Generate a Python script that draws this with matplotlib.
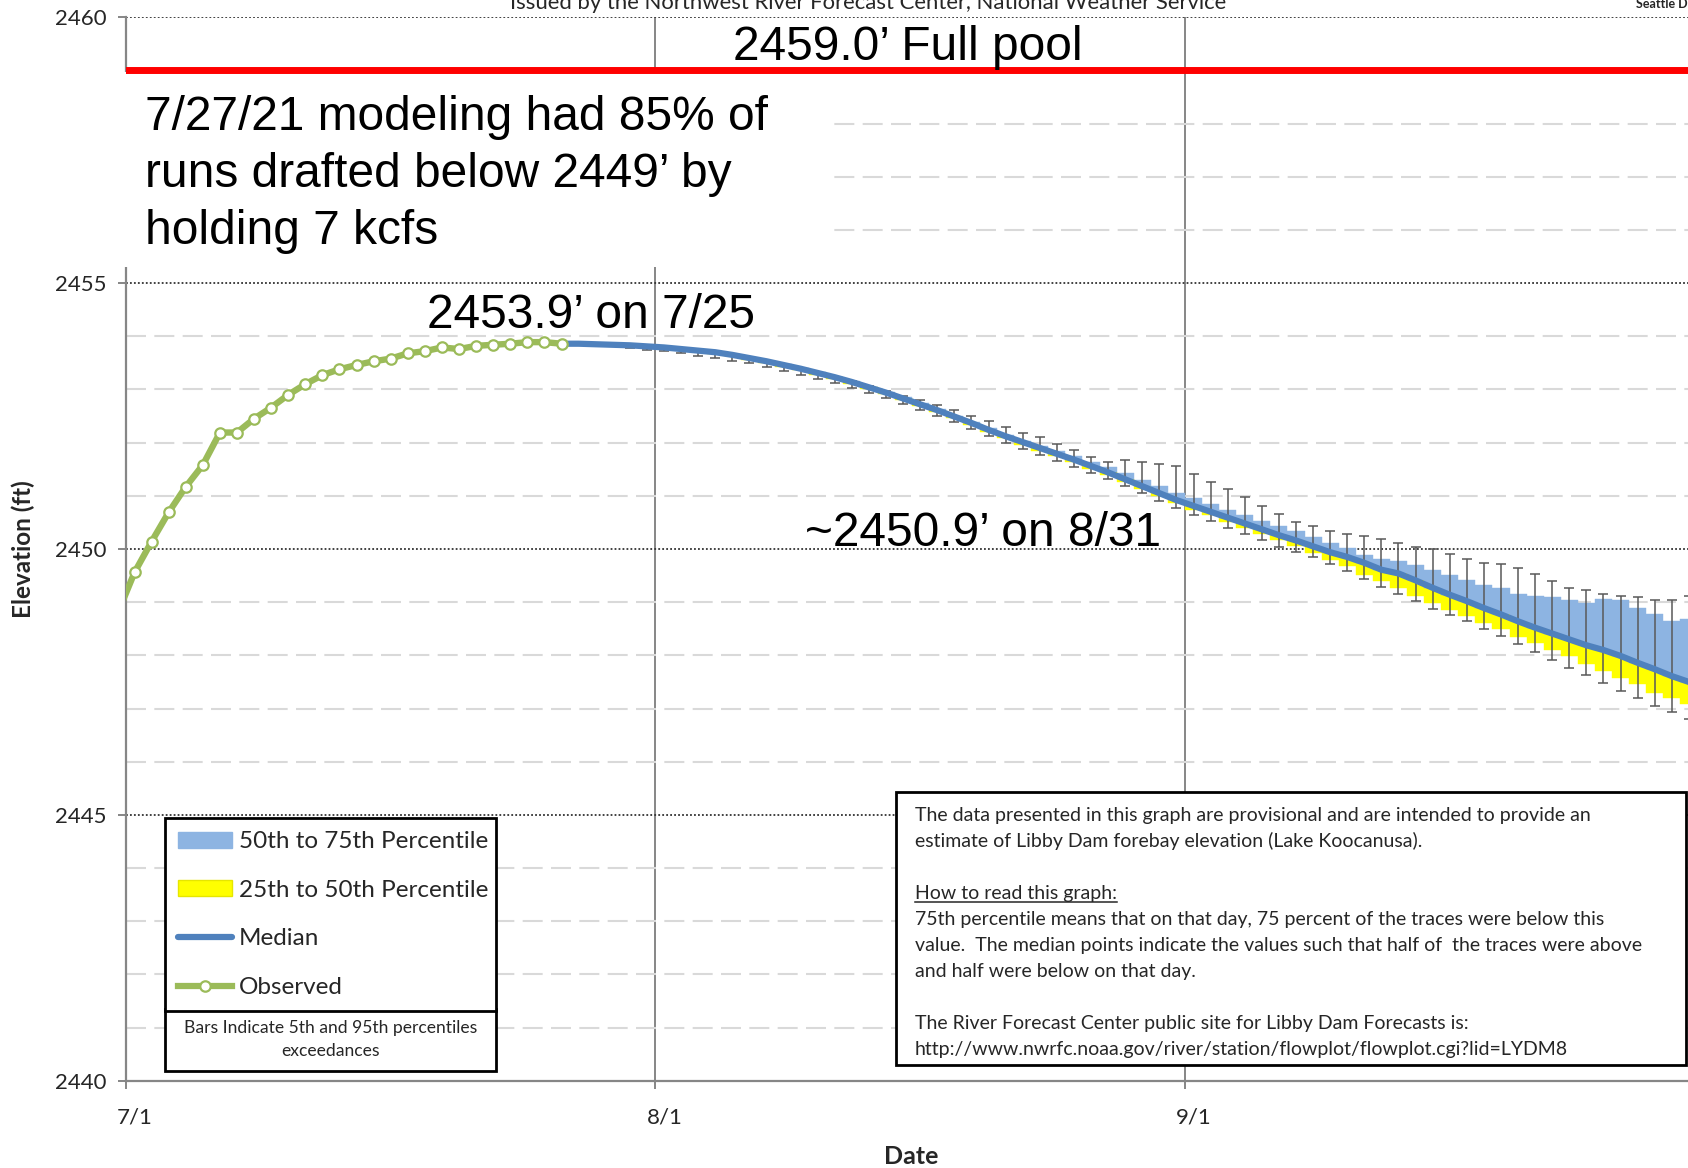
import numpy as np
import pandas as pd
import matplotlib
matplotlib.use('Agg')
import matplotlib.pyplot as plt
import matplotlib.transforms as mtransforms
from matplotlib.ticker import MultipleLocator
from matplotlib.patches import Patch, Rectangle
from matplotlib.lines import Line2D

plt.rcParams['font.family'] = ['Lato', 'DejaVu Sans']

# observed forebay elevation (ft), 6/30 .. 7/26
obs_dates = pd.date_range('2021-06-30', '2021-07-26')
obs_elev = [2448.78, 2449.56, 2450.14, 2450.69, 2451.17, 2451.58, 2452.19, 2452.19,
            2452.45, 2452.66, 2452.90, 2453.10, 2453.27, 2453.38, 2453.46, 2453.53,
            2453.58, 2453.68, 2453.72, 2453.79, 2453.76, 2453.82, 2453.84, 2453.86,
            2453.89, 2453.89, 2453.86]

# forecast median, 7/26 .. 9/30 (starts at last observed day)
med_dates = pd.date_range('2021-07-26', '2021-09-30')
median = [2453.86, 2453.86, 2453.85, 2453.84, 2453.83, 2453.81, 2453.79, 2453.76,
          2453.73, 2453.70, 2453.65, 2453.59, 2453.53, 2453.46, 2453.39, 2453.31,
          2453.23, 2453.14, 2453.04, 2452.94, 2452.83, 2452.72, 2452.61, 2452.49,
          2452.37, 2452.24, 2452.12, 2452.01, 2451.90, 2451.79, 2451.68, 2451.56,
          2451.44, 2451.31, 2451.18, 2451.05, 2450.92, 2450.81, 2450.70, 2450.59,
          2450.48, 2450.37, 2450.26, 2450.16, 2450.05, 2449.94, 2449.85, 2449.74,
          2449.61, 2449.54, 2449.41, 2449.27, 2449.14, 2449.02, 2448.89, 2448.77,
          2448.64, 2448.52, 2448.41, 2448.30, 2448.19, 2448.10, 2447.99, 2447.86,
          2447.74, 2447.61, 2447.50]

# percentiles, 7/27 .. 9/30
band_dates = pd.date_range('2021-07-27', '2021-09-30')
p95 = [2453.87, 2453.86, 2453.85, 2453.84, 2453.82, 2453.80, 2453.77, 2453.74,
       2453.71, 2453.66, 2453.60, 2453.54, 2453.47, 2453.40, 2453.32, 2453.24,
       2453.15, 2453.06, 2452.97, 2452.88, 2452.81, 2452.71, 2452.61, 2452.51,
       2452.40, 2452.29, 2452.19, 2452.10, 2451.98, 2451.86, 2451.73, 2451.63,
       2451.68, 2451.64, 2451.59, 2451.56, 2451.41, 2451.26, 2451.13, 2450.98,
       2450.81, 2450.66, 2450.50, 2450.43, 2450.34, 2450.29, 2450.25, 2450.19,
       2450.11, 2450.03, 2450.00, 2449.91, 2449.81, 2449.74, 2449.72, 2449.64,
       2449.53, 2449.39, 2449.27, 2449.22, 2449.16, 2449.12, 2449.09, 2449.05,
       2449.05, 2449.12]
p75 = [2453.86, 2453.85, 2453.84, 2453.83, 2453.81, 2453.79, 2453.76, 2453.73,
       2453.70, 2453.65, 2453.60, 2453.54, 2453.47, 2453.40, 2453.32, 2453.24,
       2453.15, 2453.05, 2452.95, 2452.85, 2452.74, 2452.63, 2452.51, 2452.39,
       2452.27, 2452.15, 2452.04, 2451.94, 2451.84, 2451.74, 2451.64, 2451.54,
       2451.42, 2451.30, 2451.18, 2451.05, 2450.95, 2450.85, 2450.74, 2450.64,
       2450.53, 2450.43, 2450.33, 2450.22, 2450.11, 2450.02, 2449.89, 2449.81,
       2449.77, 2449.69, 2449.61, 2449.52, 2449.41, 2449.33, 2449.27, 2449.16,
       2449.11, 2449.10, 2449.05, 2448.99, 2449.06, 2449.05, 2448.89, 2448.77,
       2448.64, 2448.68]
p25 = [2453.86, 2453.84, 2453.83, 2453.81, 2453.79, 2453.77, 2453.74, 2453.70,
       2453.67, 2453.62, 2453.56, 2453.50, 2453.43, 2453.36, 2453.28, 2453.20,
       2453.11, 2453.01, 2452.91, 2452.80, 2452.69, 2452.58, 2452.46, 2452.33,
       2452.20, 2452.08, 2451.96, 2451.85, 2451.74, 2451.63, 2451.51, 2451.39,
       2451.26, 2451.13, 2450.99, 2450.86, 2450.74, 2450.63, 2450.51, 2450.39,
       2450.28, 2450.16, 2450.05, 2449.93, 2449.80, 2449.68, 2449.52, 2449.39,
       2449.27, 2449.11, 2448.99, 2448.86, 2448.74, 2448.61, 2448.49, 2448.35,
       2448.24, 2448.11, 2447.99, 2447.83, 2447.71, 2447.58, 2447.46, 2447.30,
       2447.19, 2447.08]
p5 = [2453.85, 2453.83, 2453.81, 2453.78, 2453.75, 2453.72, 2453.68, 2453.63,
      2453.59, 2453.54, 2453.49, 2453.42, 2453.35, 2453.28, 2453.20, 2453.12,
      2453.03, 2452.93, 2452.83, 2452.72, 2452.61, 2452.50, 2452.38, 2452.26,
      2452.13, 2452.00, 2451.88, 2451.77, 2451.66, 2451.55, 2451.43, 2451.31,
      2451.18, 2451.05, 2450.91, 2450.77, 2450.64, 2450.52, 2450.40, 2450.28,
      2450.16, 2450.04, 2449.94, 2449.85, 2449.71, 2449.58, 2449.44, 2449.29,
      2449.16, 2449.02, 2448.88, 2448.76, 2448.64, 2448.50, 2448.36, 2448.21,
      2448.06, 2447.91, 2447.77, 2447.63, 2447.48, 2447.33, 2447.19, 2447.05,
      2446.94, 2446.80]

full_pool = 2459.0
tick_dates = pd.to_datetime(['2021-07-01', '2021-08-01', '2021-09-01'])
tick_labels = ['7/1', '8/1', '9/1']
legend_labels = ['50th to 75th Percentile', '25th to 50th Percentile', 'Median', 'Observed']
info_lines = [
    'The data presented in this graph are provisional and are intended to provide an',
    'estimate of Libby Dam forebay elevation (Lake Koocanusa).',
    '',
    'How to read this graph:',
    '75th percentile means that on that day, 75 percent of the traces were below this',
    'value.  The median points indicate the values such that half of  the traces were above',
    'and half were below on that day.',
    '',
    'The River Forecast Center public site for Libby Dam Forecasts is:',
    'http://www.nwrfc.noaa.gov/river/station/flowplot/flowplot.cgi?lid=LYDM8',
]

BLUE_BAND = '#8DB4E2'
YELLOW = '#FFFF00'
MED_BLUE = '#4F81BD'
GREEN = '#9BBB59'
GRAY = '#868686'
TXT = '#262626'

noon = pd.Timedelta(hours=12)
day0 = pd.Timestamp('2021-07-01')

fig = plt.figure(figsize=(16.88, 11.68), dpi=100)
ax = fig.add_axes([0.07464, 0.07466, 0.92536, 0.91062])

med = np.array(median)
med_b = med[1:]
bx = band_dates + noon

# stacked percentile columns
ax.bar(bx, med_b - np.array(p25), bottom=np.array(p25), width=1.0,
       color=YELLOW, edgecolor=YELLOW, linewidth=0.3, zorder=2)
ax.bar(bx, np.array(p75) - med_b, bottom=med_b, width=1.0,
       color=BLUE_BAND, edgecolor=BLUE_BAND, linewidth=0.3, zorder=2)
ax.errorbar(bx, med_b, yerr=[med_b - np.array(p5), np.array(p95) - med_b],
            fmt='none', ecolor='#595959', elinewidth=1.1, capsize=3.6,
            capthick=1.1, zorder=3)

ax.plot(med_dates + noon, median, color=MED_BLUE, lw=4.5, zorder=4,
        solid_capstyle='round')
ax.plot(obs_dates + noon, obs_elev, color=GREEN, lw=4.6, marker='o', ms=7.5,
        mfc='white', mec=GREEN, mew=1.6, zorder=5)

ax.axhline(full_pool, color='#FF0000', lw=5, zorder=6)

ax.set_xlim(day0, day0 + pd.Timedelta(days=91.45))
ax.set_ylim(2440, 2460)
ax.set_xticks(tick_dates)
ax.set_xticklabels(tick_labels)
ax.yaxis.set_major_locator(MultipleLocator(5))
ax.yaxis.set_minor_locator(MultipleLocator(1))

ax.set_axisbelow(True)
ax.yaxis.grid(True, which='major', color='#333333', lw=1.3, linestyle=(0, (1, 1.2)))
ax.yaxis.grid(True, which='minor', color='#D9D9D9', lw=1.5, linestyle=(0, (9.6, 4)))
ax.xaxis.grid(True, which='major', color=GRAY, lw=1.4)

for s in ['top', 'right']:
    ax.spines[s].set_visible(False)
for s in ['left', 'bottom']:
    ax.spines[s].set_color(GRAY)
    ax.spines[s].set_linewidth(1.6)

ax.tick_params(axis='both', which='major', color=GRAY, width=1.4, length=6,
               labelcolor=TXT, labelsize=16)
ax.tick_params(axis='y', pad=8)
ax.tick_params(axis='x', pad=13)
ax.tick_params(which='minor', length=0)
for lbl in ax.get_xticklabels():
    lbl.set_transform(lbl.get_transform() +
                      mtransforms.ScaledTranslation(0.09, 0, fig.dpi_scale_trans))

ax.set_ylabel('Elevation (ft)', fontsize=17.5, fontweight='bold', color=TXT, va='center')
ax.yaxis.set_label_coords(-0.0655, 0.5)
ax.set_xlabel('Date', fontsize=18, fontweight='bold', color=TXT, va='center')
ax.xaxis.set_label_coords(0.5024, -0.0716)

# white box behind the modeling note (hides gridlines and axis there)
ax.add_patch(Rectangle((day0 - pd.Timedelta(days=0.25), 2455.3),
                       pd.Timedelta(days=41.45), 3.67, facecolor='white',
                       edgecolor='none', zorder=5.5, clip_on=False))

arial = 'Liberation Sans'
ax.text(day0 + pd.Timedelta(days=45.75), 2459.195, '2459.0\u2019 Full pool',
        family=arial, fontsize=34.5, ha='center', va='baseline', zorder=7)
ax.text(day0 + pd.Timedelta(days=1.1), 2458.54,
        '7/27/21 modeling had 85% of\nruns drafted below 2449\u2019 by\nholding 7 kcfs',
        family=arial, fontsize=34.5, ha='left', va='top', linespacing=1.34, zorder=7)
ax.text(day0 + pd.Timedelta(days=27.2), 2454.16, '2453.9\u2019 on 7/25',
        family=arial, fontsize=34.5, ha='center', va='baseline', zorder=7)
ax.text(day0 + pd.Timedelta(days=50.15), 2450.05, '~2450.9\u2019 on 8/31',
        family=arial, fontsize=34.5, ha='center', va='baseline', zorder=7)

# legend
handles = [Patch(facecolor=BLUE_BAND, edgecolor=BLUE_BAND),
           Patch(facecolor=YELLOW, edgecolor='#E6E600'),
           Line2D([], [], color=MED_BLUE, lw=4.5, solid_capstyle='round'),
           Line2D([], [], color=GREEN, lw=4.5, marker='o', ms=7.5, mfc='white',
                  mec=GREEN, mew=1.6)]
leg = ax.legend(handles, legend_labels, loc='upper left',
                bbox_to_anchor=(0.025, 0.0675, 0.212, 0.1795), mode='expand',
                borderaxespad=0, fontsize=17.5, handlelength=2.2, handleheight=0.62,
                handletextpad=0.3, labelspacing=1.135, borderpad=0.54,
                fancybox=False, framealpha=1, edgecolor='black')
leg.get_frame().set_linewidth(2)
leg.set_zorder(8)
for t in leg.get_texts():
    t.set_color(TXT)

ax.add_patch(Rectangle((0.025, 0.0092), 0.212, 0.0583, transform=ax.transAxes,
                       facecolor='white', edgecolor='black', lw=2, zorder=8,
                       clip_on=False))
ax.text(0.131, 0.0385, 'Bars Indicate 5th and 95th percentiles\nexceedances',
        transform=ax.transAxes, ha='center', va='center', fontsize=12.6,
        color=TXT, linespacing=1.56, zorder=9)

# disclaimer box
ax.add_patch(Rectangle((0.493, 0.0149), 0.5057, 0.2566, transform=ax.transAxes,
                       facecolor='white', edgecolor='black', lw=2, zorder=8,
                       clip_on=False))
H = 1168.0
heading = None
for i, line in enumerate(info_lines):
    if not line:
        continue
    t = fig.text(915 / 1688, 1 - (820.7 + 26 * i) / H, line, ha='left',
                 va='baseline', fontsize=14, color=TXT, zorder=9)
    if line.startswith('How to read'):
        heading = t

# header strip cut off at the top edge
fig.text(0.514, 1 - 8.6 / H,
         'Issued by the Northwest River Forecast Center, National Weather Service',
         ha='center', va='baseline', fontsize=15.9, color=TXT)
fig.text(1636 / 1688, 1 - 7.5 / H, 'Seattle District', ha='left', va='baseline',
         fontsize=9, fontweight='bold', color=TXT)

fig.canvas.draw()
bb = heading.get_window_extent().transformed(fig.transFigure.inverted())
uy = 1 - (820.7 + 26 * 3 + 3.5) / H
fig.add_artist(Line2D([bb.x0, bb.x1], [uy, uy], color=TXT, lw=1.1,
                      transform=fig.transFigure))

fig.savefig('out.png', dpi=100)
